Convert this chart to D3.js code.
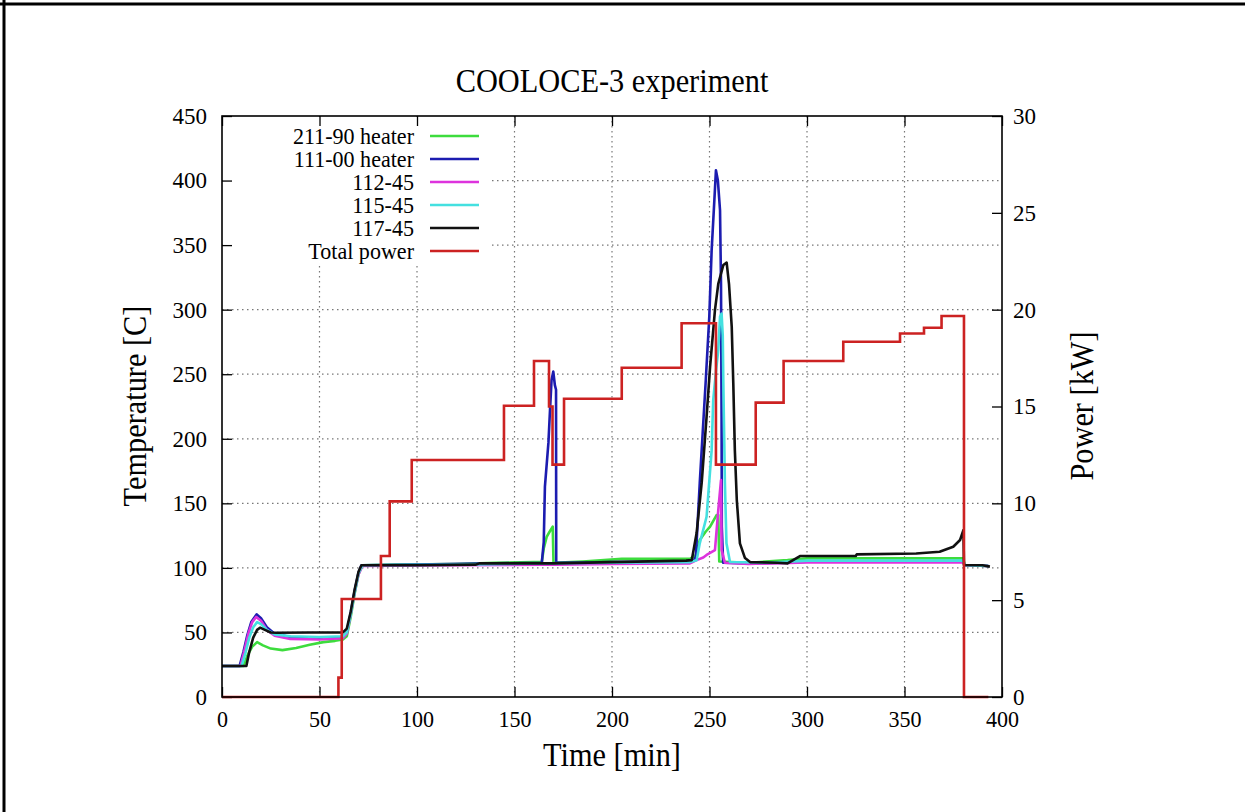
<!DOCTYPE html>
<html>
<head>
<meta charset="utf-8">
<script src="https://cdn.jsdelivr.net/npm/d3@7"></script>
<style>
  html, body { margin: 0; padding: 0; background: #fff; }
  svg { display: block; }
</style>
</head>
<body>
<svg id="chart" width="1245" height="812"></svg>
<script>
// ---------------- data ----------------
const xTicks = [0, 50, 100, 150, 200, 250, 300, 350, 400];
const yTicks = [0, 50, 100, 150, 200, 250, 300, 350, 400, 450];
const y2Ticks = [0, 5, 10, 15, 20, 25, 30];

const seriesNames = ["211-90 heater", "111-00 heater", "112-45", "115-45", "117-45", "Total power"];
const seriesColors = ["#3ddc3d", "#1c1cb0", "#dd33dd", "#44e0e0", "#111111", "#cc2222"];

// [time (min), temperature (C)]
const heater211 = [[0,24],[11,24],[13,32],[15.5,39],[18,42.5],[21,40],[25,37.5],[31,36.3],[38,38],[45,40.5],[52,42.5],[58,43.5],[62,44.5],[64,47],[66,62],[68,80],[70,95],[72,102],[90,102.5],[120,103],[140,104],[160,104.5],[164,104.5],[165,115],[166.5,124],[168,128],[169.6,132],[170,104],[185,105],[205,107],[240,107],[243,110],[245,121.6],[248,128],[250.3,132],[253.7,141],[254.5,141],[255,105],[270,104],[290,106],[300,107.4],[340,107.4],[380,107.4],[381,102],[393,101.5]];

const heater111 = [[0,24],[9,24],[11,35],[13,48],[15,58],[17.8,64],[20,61],[23,54],[27,49],[35,46.5],[50,46],[62,46.5],[64,50],[66,65],[68,82],[70,96],[71.5,102],[100,102.5],[140,103.5],[164,104],[165,120],[165.6,163],[167.4,197],[168.2,222],[169,245.5],[169.9,252],[170.7,241.6],[171.3,238],[171.4,104],[200,104.5],[240,105],[242,106],[243,108.7],[245,165.7],[246.5,204.5],[248,243],[249.9,294.6],[251.1,346],[252.5,385],[253.3,408],[254.3,400],[255.4,377],[255.9,320],[256.2,217],[256.3,132],[257,104],[270,103.5],[290,104],[300,104.8],[380,104.8],[381,102],[393,101.5]];

const t112 = [[0,24],[9.5,24],[11.5,36],[13.5,49],[15.5,58],[17.5,62],[20,59],[23,52],[27,47.5],[35,45],[50,44.5],[62,45.5],[64,49],[66,64],[68,81],[70,95],[72,101.5],[120,102],[164,102.5],[170,102.5],[200,103],[240,103.5],[243.4,106],[246.8,108],[248.5,110],[252.8,113.8],[254.5,144.8],[255.9,168],[256.2,114],[257.9,104],[270,103],[300,104.3],[380,104.3],[381,102],[393,101.5]];

const t115 = [[0,24],[10,24],[12,34],[14,46],[16,54],[18,58],[20,56.5],[23,52],[27,48.5],[35,47],[50,46.5],[62,47],[64,50],[66,64],[68,81],[70,96],[72,102],[120,102.5],[164,103.5],[200,104],[240,104.5],[243.4,106],[245,119],[248.5,139.6],[251.1,191],[251.9,230],[253.5,255],[254.5,268.8],[255.4,294.6],[256.2,297],[256.8,280],[257.1,243],[257.9,165.7],[258.7,119],[260.5,104.6],[280,104],[300,105.6],[380,105.6],[381,102],[393,101.5]];

const t117 = [[0,24],[12.5,24],[14,35],[16,46],[18,52],[19.5,53.7],[22,52],[25,50],[28,49.8],[45,50],[62,50],[64,53],[66,66],[68,83],[70,97],[71.5,102],[100,102],[130,102.5],[132,103.5],[165,103.5],[170,103.5],[200,104.5],[238,105.6],[240.9,106],[243.4,127],[246,166],[248.5,217],[250.3,255.8],[252.8,299.7],[254.5,320],[257.1,334.6],[258.8,336.4],[260,320],[261.4,286.8],[262.2,243],[263,191],[264,152.6],[265.6,119],[268.2,107.6],[270.8,104.5],[285,104],[290,103.5],[296.4,109.2],[325,109.2],[325.5,110.5],[356,111.1],[368,112.5],[375,116.4],[378.5,121.6],[380.2,129.3],[380.5,102.2],[390,102],[393.8,101]];

// [time (min), power (kW)] — step changes
const totalPower = [[0,0],[59.7,1.0],[61.4,5.06],[81.5,7.28],[86,10.1],[97.3,12.24],[144.6,15.04],[160,17.35],[167.7,15.0],[169.5,12.0],[175.4,15.4],[205,17.0],[235.7,19.3],[253.3,12.0],[273.7,15.2],[288,17.35],[318.6,18.34],[347.7,18.77],[360,19.07],[369,19.67],[380.5,0],[393,0]];

// ---------------- chart ----------------
const FONT = "'Liberation Serif', 'Times New Roman', serif";
const svg = d3.select("#chart");
const L = 222, R = 1002, T = 116, B = 697;

const x = d3.scaleLinear().domain([0, 400]).range([L, R]);
const y = d3.scaleLinear().domain([0, 450]).range([B, T]);
const y2 = d3.scaleLinear().domain([0, 30]).range([B, T]);

// outer border (top & left)
svg.append("line").attr("x1", 0).attr("x2", 1245).attr("y1", 4).attr("y2", 4).attr("stroke", "#000").attr("stroke-width", 3);
svg.append("line").attr("x1", 4).attr("x2", 4).attr("y1", 0).attr("y2", 812).attr("stroke", "#000").attr("stroke-width", 3);

function txt(px, py, s, size, anchor, rot) {
  svg.append("text")
    .attr("transform", `translate(${px},${py}) rotate(${rot || 0}) scale(0.92,1)`)
    .attr("text-anchor", anchor)
    .attr("font-family", FONT)
    .attr("font-size", size)
    .attr("fill", "#000")
    .text(s);
}

// grid
const grid = svg.append("g").attr("stroke", "#777").attr("stroke-width", 1.2).attr("stroke-dasharray", "1.5,3.5");
grid.selectAll("line.v").data(xTicks.slice(1, -1)).join("line")
  .attr("x1", d => x(d)).attr("x2", d => x(d)).attr("y1", T).attr("y2", B);
grid.selectAll("line.h").data(yTicks.slice(1, -1)).join("line")
  .attr("x1", L).attr("x2", R).attr("y1", d => y(d)).attr("y2", d => y(d));

// opaque legend box
svg.append("rect").attr("x", L + 1).attr("y", T + 1).attr("width", 268).attr("height", 146).attr("fill", "#fff");

// axes
function styleAxis(g) {
  g.selectAll(".domain").remove();
  g.selectAll(".tick line").attr("stroke", "#000").attr("stroke-width", 1.3);
  g.selectAll(".tick text").attr("font-family", FONT).attr("font-size", 24).attr("fill", "#000")
    .attr("transform", "scale(0.92,1)");
}
svg.append("g").attr("transform", `translate(0,${B})`)
  .call(d3.axisBottom(x).tickValues(xTicks).tickSizeInner(-10).tickSizeOuter(0).tickPadding(13).tickFormat(d3.format("d")))
  .call(styleAxis);
svg.append("g").attr("transform", `translate(0,${T})`)
  .call(d3.axisTop(x).tickValues(xTicks).tickSizeInner(-10).tickSizeOuter(0).tickFormat(""))
  .call(styleAxis);
svg.append("g").attr("transform", `translate(${L},0)`)
  .call(d3.axisLeft(y).tickValues(yTicks).tickSizeInner(-10).tickSizeOuter(0).tickPadding(15).tickFormat(d3.format("d")))
  .call(styleAxis)
  .call(g => g.selectAll(".tick text").attr("transform", null).attr("font-size", 23));
svg.append("g").attr("transform", `translate(${R},0)`)
  .call(d3.axisRight(y2).tickValues(y2Ticks).tickSizeInner(-10).tickSizeOuter(0).tickPadding(11).tickFormat(d3.format("d")))
  .call(styleAxis)
  .call(g => g.selectAll(".tick text").attr("transform", null).attr("font-size", 23));

// data lines
const tempLine = d3.line().x(d => x(d[0])).y(d => y(d[1]));
const powerLine = d3.line().x(d => x(d[0])).y(d => y2(d[1])).curve(d3.curveStepAfter);
const tempSeries = [heater211, heater111, t112, t115, t117];
tempSeries.forEach((s, i) => {
  svg.append("path").datum(s).attr("d", tempLine)
    .attr("fill", "none").attr("stroke", seriesColors[i]).attr("stroke-width", 2.6)
    .attr("stroke-linejoin", "round");
});
svg.append("path").datum(totalPower).attr("d", powerLine)
  .attr("fill", "none").attr("stroke", seriesColors[5]).attr("stroke-width", 2.6);

// frame
svg.append("rect").attr("x", L).attr("y", T).attr("width", R - L).attr("height", B - T)
  .attr("fill", "none").attr("stroke", "#000").attr("stroke-width", 1.6);

// legend
const legY0 = 136, legDy = 23;
seriesNames.forEach((n, i) => {
  const ly = legY0 + i * legDy;
  txt(414, ly + 8, n, 24, "end");
  svg.append("line").attr("x1", 430).attr("x2", 479).attr("y1", ly).attr("y2", ly)
    .attr("stroke", seriesColors[i]).attr("stroke-width", 2.6);
});

// titles
txt(612, 92, "COOLOCE-3 experiment", 33, "middle");
txt(612, 766, "Time [min]", 33, "middle");
txt(146, 406, "Temperature [C]", 33, "middle", -90);
txt(1093, 406, "Power [kW]", 33, "middle", -90);
</script>
</body>
</html>
